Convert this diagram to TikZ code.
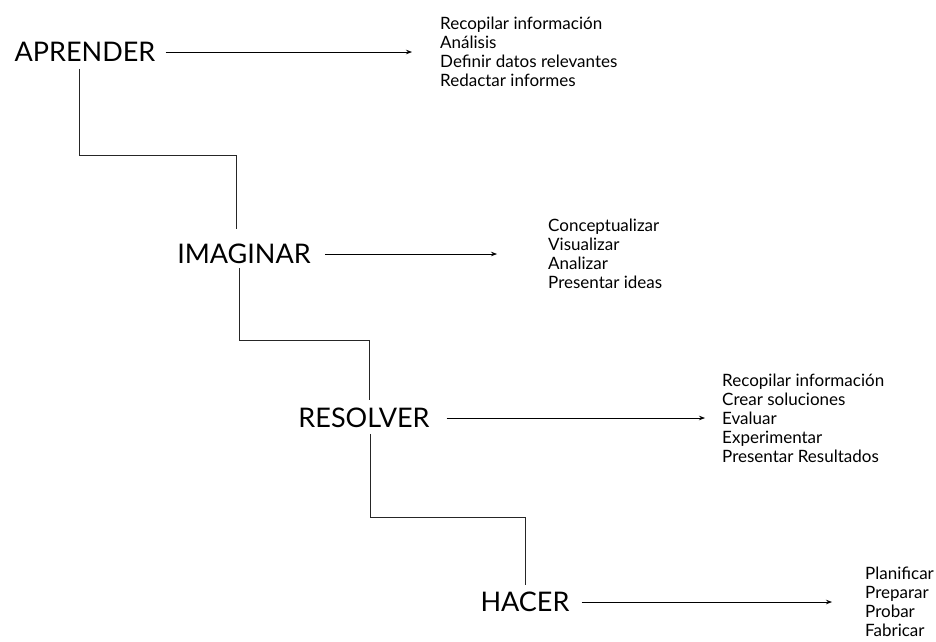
\documentclass[tikz,border=0pt]{standalone}
\usepackage{fontspec}
\setmainfont{Lato}
\usetikzlibrary{arrows.meta}
\begin{document}
\begin{tikzpicture}[x=1pt, y=-1pt]
\tikzstyle{w} = [font=\fontsize{27}{27}\selectfont, inner sep=0pt, text height=19.4pt, text depth=0pt]
\tikzstyle{t} = [font=\fontsize{17}{19}\selectfont, inner sep=0pt, anchor=west, align=left]
\tikzstyle{e} = [draw=black, line width=0.7pt, -{Stealth[length=6pt, width=4.5pt]}, shorten >=2pt]
\tikzstyle{s} = [draw=black!85, line width=0.8pt]

\useasboundingbox (0,0) rectangle (936,641);

\node[w] (A) at (85, 52) {APRENDER};
\node[w] (B) at (244, 254) {IMAGINAR};
\node[w] (C) at (364, 418) {RESOLVER};
\node[w] (D) at (525, 602) {HACER};

\node[t] (a) at (440, 52) {Recopilar información\\Análisis\\Definir datos relevantes\\Redactar informes};
\node[t] (b) at (548, 254) {Conceptualizar\\Visualizar\\Analizar\\Presentar ideas};
\node[t] (c) at (722, 418) {Recopilar información\\Crear soluciones\\Evaluar\\Experimentar\\Presentar Resultados};
\node[t] (d) at (865, 602) {Planificar\\Preparar\\Probar\\Fabricar};

\draw[e, shorten <=10pt, shorten >=28pt] (A) -- (a);
\draw[e, shorten <=14pt, shorten >=51pt] (B) -- (b);
\draw[e, shorten <=17pt, shorten >=17pt] (C) -- (c);
\draw[e, shorten <=12pt, shorten >=33pt] (D) -- (d);

\coordinate (a1) at (79, 155);
\coordinate (a2) at (236, 155);
\coordinate (b1) at (239, 340);
\coordinate (b2) at (369, 340);
\coordinate (c1) at (370, 517);
\coordinate (c2) at (525, 517);

\draw[s, shorten <=7pt, shorten >=15pt] (A.south -| a1) -- (a1) -- (a2) -- (B.north -| a2);
\draw[s, shorten <=4pt, shorten >=8pt] (B.south -| b1) -- (b1) -- (b2) -- (C.north -| b2);
\draw[s, shorten <=6pt, shorten >=7pt] (C.south -| c1) -- (c1) -- (c2) -- (D.north -| c2);
\end{tikzpicture}
\end{document}
